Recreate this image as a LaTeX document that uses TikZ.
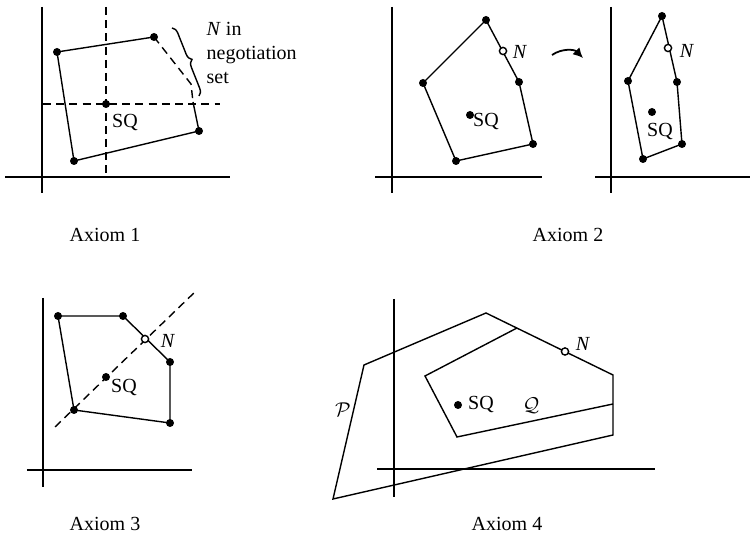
\documentclass[tikz,border=0pt]{standalone}
\usepackage{fontspec}
\setmainfont{Liberation Serif}
\usetikzlibrary{decorations.pathreplacing,arrows.meta}

\begin{document}
\begin{tikzpicture}[x=25pt,y=25pt,line width=0.7pt,
        dashline/.style={dash pattern=on 4pt off 2.6pt},
        every node/.style={font=\fontsize{10}{12}\selectfont, inner sep=0pt}]
        \useasboundingbox (0,0) rectangle (15,10.78);

        % Coordinates
        % Axiom 1
        \coordinate (A) at (1.14, 9.74);
        \coordinate (B) at (3.08, 10.04);
        \coordinate (C) at (3.82, 9.10);
        \coordinate (D) at (3.86, 8.74);
        \coordinate (E) at (3.98, 8.16);
        \coordinate (F) at (1.48, 7.56);
        \coordinate (SQa) at (2.12, 8.70);
        \coordinate (BRa) at (3.44, 10.22);
        \coordinate (BRb) at (3.98, 8.86);
        % Axiom 2
        \coordinate (G) at (9.72, 10.38);
        \coordinate (H) at (10.38, 9.14);
        \coordinate (I) at (10.66, 7.90);
        \coordinate (J) at (9.12, 7.56);
        \coordinate (K) at (8.46, 9.12);
        \coordinate (Nb) at (10.06, 9.76);
        \coordinate (SQb) at (9.40, 8.48);
        \coordinate (L) at (13.24, 10.46);
        \coordinate (M) at (13.54, 9.14);
        \coordinate (N) at (13.64, 7.90);
        \coordinate (O) at (12.86, 7.60);
        \coordinate (P) at (12.56, 9.16);
        \coordinate (Nc) at (13.36, 9.82);
        \coordinate (SQc) at (13.04, 8.54);
        \coordinate (ARa) at (11.04, 9.68);
        \coordinate (ARb) at (11.66, 9.62);
        % Axiom 3
        \coordinate (Q) at (1.16, 4.46);
        \coordinate (R) at (2.46, 4.46);
        \coordinate (S) at (3.40, 3.54);
        \coordinate (T) at (3.40, 2.32);
        \coordinate (U) at (1.48, 2.58);
        \coordinate (Nd) at (2.90, 4.00);
        \coordinate (SQd) at (2.12, 3.24);
        % Axiom 4
        \coordinate (V) at (6.66, 0.80);
        \coordinate (W) at (7.28, 3.48);
        \coordinate (X) at (9.72, 4.52);
        \coordinate (Y) at (12.26, 3.28);
        \coordinate (Z) at (12.26, 2.08);
        \coordinate (AA) at (10.34, 4.22);
        \coordinate (AB) at (8.50, 3.26);
        \coordinate (AC) at (9.14, 2.04);
        \coordinate (AD) at (12.26, 2.70);
        \coordinate (Ne) at (11.30, 3.75);
        \coordinate (SQe) at (9.16, 2.68);

        % Axes
        \draw (0.84, 10.64) -- (0.84, 6.92);
        \draw (0.10, 7.24) -- (4.60, 7.24);
        \draw (7.84, 10.64) -- (7.84, 6.92);
        \draw (7.50, 7.24) -- (10.84, 7.24);
        \draw (12.22, 10.64) -- (12.22, 6.92);
        \draw (11.90, 7.24) -- (15.00, 7.24);
        \draw (0.86, 4.82) -- (0.86, 1.04);
        \draw (0.54, 1.38) -- (3.84, 1.38);
        \draw (7.88, 4.80) -- (7.88, 0.84);
        \draw (7.54, 1.40) -- (13.10, 1.40);

        % Drawing
        \draw (D) -- (E) -- (F) -- (A) -- (B);
        \draw[dashline] (B) -- (C) -- (D);
        \draw[dashline] (2.12, 10.64) -- (2.12, 7.24);
        \draw[dashline] (0.86, 8.70) -- (4.40, 8.70);
        \draw[decorate, decoration={brace, amplitude=3.5pt}] (BRa) -- (BRb);
        \node[anchor=north west, align=left] (neg) at (4.12, 10.35) {\textit{N} in\\negotiation\\set};
        \node (sqa) at (2.50, 8.32) {SQ};

        \draw (G) -- (H) -- (I) -- (J) -- (K) -- cycle;
        \node (nb) at (10.40, 9.74) {\textit{N}};
        \node (sqb) at (9.72, 8.34) {SQ};
        \draw[line width=0.9pt, -{Latex[length=5pt,width=5pt]}] (ARa) to[bend left=40] (ARb);
        \draw (L) -- (M) -- (N) -- (O) -- (P) -- cycle;
        \node (nc) at (13.74, 9.76) {\textit{N}};
        \node (sqc) at (13.20, 8.14) {SQ};

        \draw (Q) -- (R) -- (S) -- (T) -- (U) -- cycle;
        \draw[dashline] (1.10, 2.24) -- (3.94, 4.98);
        \node (nd) at (3.36, 3.96) {\textit{N}};
        \node (sqd) at (2.48, 3.02) {SQ};

        \draw (V) -- (W) -- (X) -- (Y) -- (Z) -- cycle;
        \draw (AA) -- (AB) -- (AC) -- (AD);
        \node (ne) at (11.66, 3.90) {\textit{N}};
        \node (sqe) at (9.62, 2.68) {SQ};
        \node (q) at (10.62, 2.66) {$\mathcal{Q}$};
        \node (p) at (6.86, 2.58) {$\mathcal{P}$};

        % Points
        \foreach \p in {A,B,E,F,G,H,I,J,K,L,M,N,O,P,Q,R,S,T,U}
            \fill (\p) circle[radius=2pt];
        \foreach \p in {SQa,SQb,SQc,SQd,SQe}
            \fill (\p) circle[radius=2pt];
        \foreach \p in {Nb,Nc,Nd,Ne}
            \draw[fill=white] (\p) circle[radius=1.8pt];

        % Captions
        \node[anchor=base] (ax1) at (2.10, 5.94) {Axiom 1};
        \node[anchor=base] (ax2) at (11.36, 5.94) {Axiom 2};
        \node[anchor=base] (ax3) at (2.10, 0.16) {Axiom 3};
        \node[anchor=base] (ax4) at (10.14, 0.16) {Axiom 4};
\end{tikzpicture}
\end{document}
